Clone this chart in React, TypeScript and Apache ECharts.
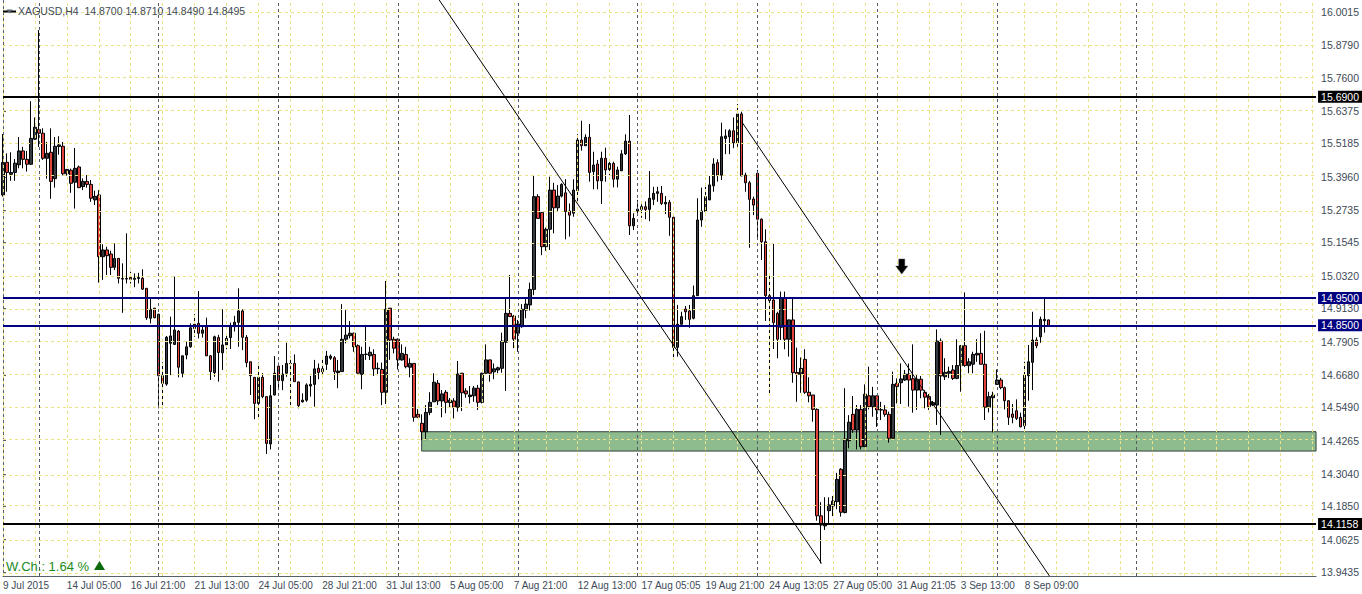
import React, { useEffect, useRef } from "react";
import * as echarts from "echarts";

// ---------------- data ----------------
const symbolName = "XAGUSD,H4";
const weeklyChangeText = "W.Ch.: 1.64 %";

const dateLabels = [
  "9 Jul 2015", "14 Jul 05:00", "16 Jul 21:00", "21 Jul 13:00", "24 Jul 05:00",
  "28 Jul 21:00", "31 Jul 13:00", "5 Aug 05:00", "7 Aug 21:00", "12 Aug 13:00",
  "17 Aug 05:05", "19 Aug 21:00", "24 Aug 13:05", "27 Aug 05:00", "31 Aug 21:05",
  "3 Sep 13:00", "8 Sep 09:00",
];

const priceTicks = [
  16.0015, 15.879, 15.76, 15.6375, 15.5185, 15.396, 15.2735, 15.1545, 15.032,
  14.913, 14.7905, 14.668, 14.549, 14.4265, 14.304, 14.185, 14.0625, 13.9435,
];

const levelPrices = [15.69, 14.95, 14.85, 14.1158];
const levelColors = ["#000000", "#000080", "#000080", "#000000"];

const opens = [
  15.329, 15.449, 15.405, 15.412, 15.440, 15.491, 15.460, 15.442, 15.534, 15.570,
  15.556, 15.464, 15.486, 15.389, 15.507, 15.508, 15.407, 15.420, 15.376, 15.432,
  15.360, 15.379, 15.368, 15.311, 15.329, 15.102, 15.127, 15.112, 15.063, 15.096,
  15.022, 15.020, 15.026, 15.019, 15.022, 15.023, 14.986, 14.876, 14.913, 14.891,
  14.665, 14.634, 14.784, 14.780, 14.829, 14.674, 14.741, 14.771, 14.838, 14.857,
  14.821, 14.845, 14.738, 14.676, 14.805, 14.749, 14.778, 14.805, 14.845, 14.861,
  14.903, 14.806, 14.716, 14.659, 14.563, 14.659, 14.588, 14.414, 14.594, 14.700,
  14.647, 14.674, 14.710, 14.710, 14.642, 14.569, 14.575, 14.627, 14.633, 14.692,
  14.680, 14.707, 14.729, 14.731, 14.676, 14.680, 14.799, 14.812, 14.821, 14.775,
  14.670, 14.743, 14.738, 14.743, 14.690, 14.688, 14.604, 14.913, 14.799, 14.799,
  14.723, 14.743, 14.696, 14.710, 14.523, 14.490, 14.459, 14.530, 14.569, 14.637,
  14.572, 14.604, 14.566, 14.572, 14.549, 14.674, 14.609, 14.588, 14.591, 14.619,
  14.567, 14.674, 14.723, 14.679, 14.686, 14.692, 14.788, 14.894, 14.884, 14.821,
  14.845, 14.906, 14.925, 14.982, 15.323, 15.265, 15.139, 15.203, 15.347, 15.282,
  15.325, 15.337, 15.270, 15.262, 15.345, 15.531, 15.510, 15.541, 15.415, 15.443,
  15.381, 15.464, 15.423, 15.445, 15.387, 15.418, 15.480, 15.527, 15.216, 15.270,
  15.276, 15.286, 15.276, 15.313, 15.335, 15.335, 15.296, 15.302, 15.247, 14.769,
  14.854, 14.910, 14.903, 14.876, 14.959, 15.237, 15.268, 15.311, 15.363, 15.448,
  15.402, 15.537, 15.543, 15.565, 15.521, 15.627, 15.402, 15.374, 15.314, 15.409,
  15.240, 15.157, 14.959, 14.943, 14.894, 14.843, 14.949, 14.799, 14.870, 14.677,
  14.670, 14.725, 14.604, 14.594, 14.541, 14.150, 14.113, 14.169, 14.186, 14.202,
  14.321, 14.162, 14.426, 14.523, 14.465, 14.541, 14.404, 14.591, 14.551, 14.591,
  14.539, 14.539, 14.523, 14.435, 14.637, 14.639, 14.649, 14.671, 14.654, 14.612,
  14.652, 14.604, 14.588, 14.557, 14.557, 14.792, 14.661, 14.674, 14.686, 14.655,
  14.702, 14.775, 14.702, 14.707, 14.741, 14.747, 14.707, 14.549, 14.584, 14.633,
  14.649, 14.621, 14.573, 14.524, 14.536, 14.512, 14.481, 14.665, 14.714, 14.796,
  14.808, 14.867, 14.870,
];

const closes = [
  15.448, 15.412, 15.412, 15.446, 15.491, 15.460, 15.442, 15.537, 15.578, 15.556,
  15.464, 15.482, 15.379, 15.508, 15.513, 15.407, 15.423, 15.372, 15.427, 15.356,
  15.379, 15.368, 15.317, 15.324, 15.102, 15.127, 15.106, 15.063, 15.096, 15.023,
  15.020, 15.022, 15.019, 15.023, 15.026, 14.983, 14.878, 14.909, 14.878, 14.665,
  14.637, 14.806, 14.811, 14.833, 14.696, 14.738, 14.771, 14.841, 14.854, 14.821,
  14.833, 14.738, 14.680, 14.808, 14.750, 14.778, 14.802, 14.848, 14.861, 14.903,
  14.806, 14.713, 14.665, 14.563, 14.659, 14.588, 14.416, 14.591, 14.674, 14.647,
  14.671, 14.710, 14.709, 14.643, 14.555, 14.575, 14.631, 14.633, 14.690, 14.677,
  14.690, 14.737, 14.737, 14.680, 14.682, 14.799, 14.814, 14.821, 14.771, 14.674,
  14.743, 14.744, 14.751, 14.690, 14.692, 14.604, 14.909, 14.796, 14.766, 14.723,
  14.747, 14.698, 14.710, 14.512, 14.512, 14.459, 14.530, 14.567, 14.641, 14.572,
  14.598, 14.567, 14.575, 14.549, 14.671, 14.602, 14.598, 14.594, 14.619, 14.567,
  14.674, 14.723, 14.674, 14.690, 14.694, 14.792, 14.894, 14.882, 14.799, 14.855,
  14.909, 14.928, 14.982, 15.323, 15.243, 15.139, 15.203, 15.347, 15.282, 15.325,
  15.368, 15.268, 15.255, 15.347, 15.531, 15.510, 15.541, 15.412, 15.439, 15.381,
  15.464, 15.421, 15.445, 15.387, 15.421, 15.480, 15.527, 15.216, 15.243, 15.277,
  15.286, 15.276, 15.317, 15.335, 15.341, 15.298, 15.302, 15.247, 14.769, 14.854,
  14.882, 14.900, 14.872, 14.959, 15.237, 15.270, 15.323, 15.366, 15.443, 15.402,
  15.543, 15.546, 15.565, 15.521, 15.627, 15.399, 15.374, 15.313, 15.292, 15.240,
  15.157, 14.959, 14.941, 14.860, 14.799, 14.949, 14.799, 14.870, 14.676, 14.670,
  14.692, 14.604, 14.591, 14.541, 14.150, 14.116, 14.122, 14.190, 14.204, 14.284,
  14.163, 14.432, 14.494, 14.465, 14.541, 14.404, 14.597, 14.551, 14.591, 14.539,
  14.540, 14.523, 14.435, 14.633, 14.625, 14.653, 14.671, 14.649, 14.612, 14.652,
  14.612, 14.586, 14.551, 14.566, 14.792, 14.664, 14.677, 14.680, 14.655, 14.702,
  14.775, 14.702, 14.716, 14.743, 14.747, 14.707, 14.549, 14.588, 14.594, 14.649,
  14.621, 14.573, 14.512, 14.512, 14.508, 14.477, 14.667, 14.716, 14.796, 14.775,
  14.872, 14.872, 14.8495,
];

const highs = [
  15.553, 15.482, 15.486, 15.461, 15.542, 15.506, 15.491, 15.674, 15.614, 15.935,
  15.574, 15.524, 15.574, 15.542, 15.545, 15.524, 15.424, 15.426, 15.502, 15.437,
  15.390, 15.402, 15.384, 15.345, 15.347, 15.148, 15.139, 15.124, 15.151, 15.097,
  15.078, 15.188, 15.047, 15.041, 15.043, 15.056, 14.987, 14.949, 14.914, 14.892,
  14.714, 14.811, 14.882, 15.029, 14.833, 14.739, 14.790, 14.857, 14.891, 14.976,
  14.845, 14.878, 14.741, 14.812, 14.815, 14.909, 14.814, 14.860, 14.885, 14.986,
  14.909, 14.814, 14.716, 14.660, 14.713, 14.674, 14.589, 14.631, 14.737, 14.713,
  14.704, 14.786, 14.735, 14.743, 14.643, 14.600, 14.637, 14.664, 14.723, 14.710,
  14.723, 14.756, 14.743, 14.737, 14.723, 14.928, 14.906, 14.866, 14.823, 14.780,
  14.771, 14.845, 14.771, 14.762, 14.713, 14.713, 15.013, 14.914, 14.808, 14.802,
  14.780, 14.771, 14.729, 14.711, 14.542, 14.523, 14.557, 14.604, 14.674, 14.649,
  14.612, 14.612, 14.583, 14.582, 14.719, 14.675, 14.619, 14.627, 14.627, 14.631,
  14.676, 14.780, 14.724, 14.710, 14.698, 14.823, 14.947, 15.035, 14.888, 14.870,
  14.928, 14.947, 15.007, 15.400, 15.332, 15.266, 15.209, 15.396, 15.374, 15.366,
  15.372, 15.387, 15.298, 15.387, 15.552, 15.602, 15.552, 15.590, 15.488, 15.458,
  15.488, 15.503, 15.451, 15.451, 15.433, 15.494, 15.552, 15.623, 15.262, 15.311,
  15.295, 15.305, 15.417, 15.359, 15.359, 15.362, 15.325, 15.311, 15.249, 14.925,
  14.900, 14.921, 14.925, 14.996, 15.317, 15.356, 15.359, 15.399, 15.464, 15.460,
  15.595, 15.570, 15.571, 15.614, 15.663, 15.635, 15.411, 15.381, 15.323, 15.421,
  15.243, 15.203, 15.035, 15.151, 14.900, 14.974, 14.974, 14.871, 14.949, 14.768,
  14.732, 14.762, 14.659, 14.594, 14.545, 14.200, 14.218, 14.218, 14.223, 14.308,
  14.325, 14.619, 14.520, 14.590, 14.557, 14.557, 14.633, 14.698, 14.624, 14.592,
  14.569, 14.557, 14.533, 14.680, 14.655, 14.710, 14.686, 14.710, 14.780, 14.667,
  14.664, 14.612, 14.598, 14.572, 14.835, 14.802, 14.729, 14.698, 14.704, 14.799,
  14.778, 14.971, 14.729, 14.753, 14.799, 14.821, 14.830, 14.606, 14.606, 14.688,
  14.657, 14.625, 14.574, 14.561, 14.578, 14.529, 14.716, 14.778, 14.900, 14.806,
  14.882, 14.949, 14.871,
];

const lows = [
  15.323, 15.341, 15.381, 15.381, 15.427, 15.427, 15.415, 15.440, 15.531, 15.506,
  15.458, 15.389, 15.315, 15.356, 15.477, 15.401, 15.400, 15.337, 15.279, 15.355,
  15.347, 15.356, 15.304, 15.292, 15.007, 15.017, 15.035, 15.035, 15.053, 15.004,
  14.896, 15.004, 15.004, 14.990, 15.004, 14.980, 14.870, 14.857, 14.876, 14.545,
  14.545, 14.628, 14.667, 14.778, 14.659, 14.659, 14.725, 14.768, 14.808, 14.802,
  14.805, 14.737, 14.649, 14.661, 14.643, 14.686, 14.762, 14.763, 14.827, 14.771,
  14.759, 14.696, 14.594, 14.505, 14.508, 14.582, 14.377, 14.394, 14.593, 14.612,
  14.612, 14.661, 14.557, 14.642, 14.545, 14.566, 14.569, 14.588, 14.551, 14.652,
  14.667, 14.686, 14.723, 14.649, 14.619, 14.679, 14.784, 14.802, 14.753, 14.673,
  14.615, 14.723, 14.723, 14.664, 14.667, 14.557, 14.561, 14.723, 14.747, 14.688,
  14.720, 14.692, 14.659, 14.496, 14.509, 14.428, 14.428, 14.520, 14.568, 14.557,
  14.512, 14.527, 14.546, 14.508, 14.533, 14.535, 14.584, 14.563, 14.569, 14.539,
  14.563, 14.673, 14.643, 14.652, 14.674, 14.676, 14.609, 14.881, 14.766, 14.753,
  14.841, 14.876, 14.904, 14.961, 15.242, 15.108, 15.124, 15.127, 15.188, 15.268,
  15.320, 15.166, 15.176, 15.249, 15.298, 15.492, 15.509, 15.378, 15.350, 15.350,
  15.296, 15.378, 15.402, 15.357, 15.357, 15.417, 15.476, 15.182, 15.200, 15.262,
  15.245, 15.240, 15.233, 15.292, 15.304, 15.292, 15.259, 15.179, 14.729, 14.735,
  14.845, 14.870, 14.841, 14.872, 14.958, 15.212, 15.267, 15.310, 15.341, 15.378,
  15.384, 15.479, 15.479, 15.501, 15.506, 15.398, 15.341, 15.135, 15.255, 15.170,
  15.090, 14.866, 14.600, 14.763, 14.729, 14.796, 14.762, 14.735, 14.639, 14.569,
  14.602, 14.598, 14.567, 14.496, 14.132, 13.975, 14.098, 14.116, 14.149, 14.174,
  14.147, 14.159, 14.398, 14.455, 14.394, 14.394, 14.403, 14.541, 14.514, 14.477,
  14.502, 14.514, 14.419, 14.434, 14.563, 14.561, 14.646, 14.551, 14.529, 14.539,
  14.582, 14.545, 14.539, 14.553, 14.484, 14.447, 14.649, 14.656, 14.649, 14.652,
  14.606, 14.698, 14.674, 14.674, 14.716, 14.706, 14.502, 14.530, 14.457, 14.631,
  14.615, 14.541, 14.484, 14.490, 14.502, 14.475, 14.468, 14.573, 14.612, 14.766,
  14.786, 14.823, 14.849,
];

// support zone (price band, starting bar)
const zoneTop = 14.459;
const zoneBottom = 14.388;
const zoneStartBar = 104.9;

// channel trend lines [bar, price]
const channelA = [[109.3, 16.0456], [205.1, 13.975]];
const channelB = [[185.1, 15.598], [262.2, 13.9288]];

// sell arrow [bar, price]
const arrowPoint = [225.2, 15.066];

// period separators (bar indices)
const separatorBars = [9, 39, 69, 99, 129, 159, 189, 219, 249, 284];

// ---------------- layout constants ----------------
const TOTAL_BARS = 330;
const Y_MIN = 13.9288;
const Y_MAX = 16.0456;
const FONT = "'Liberation Sans', Arial, sans-serif";
const TEXT = "#3e4a57";
const AXIS = "#56616c";
const GRID_Y = "#ece28a";
const SEP = "#555b60";

export default function App() {
  const ref = useRef<HTMLDivElement>(null);

  useEffect(() => {
    document.body.style.margin = "0";
    const chart = echarts.init(ref.current!, null, { renderer: "svg" });

    const cats = Array.from({ length: TOTAL_BARS }, (_, i) => String(i));
    const candles = opens.map((o, i) => [o, closes[i], lows[i], highs[i]]);
    const last = opens.length - 1;
    const header = `${symbolName}  ${opens[last].toFixed(4)} ${highs[last].toFixed(4)} ${lows[last].toFixed(4)} ${closes[last].toFixed(4)}`;

    const vGrid: number[] = [];
    for (let i = 0; i < TOTAL_BARS; i += 8) vGrid.push(i);

    const gridLines: any[] = [
      ...priceTicks.map((v) => ({
        yAxis: v,
        lineStyle: { color: GRID_Y, type: [3, 3], width: 1 },
        label: { show: false },
      })),
      ...vGrid.map((b) => ({
        xAxis: b,
        lineStyle: { color: GRID_Y, type: [3, 3], width: 1 },
        label: { show: false },
      })),
      ...separatorBars.map((b) => ({
        xAxis: b,
        lineStyle: { color: SEP, type: [3, 3], width: 1 },
        label: { show: false },
      })),
    ];

    const levelLines = levelPrices.map((v, i) => ({
      yAxis: v,
      lineStyle: { color: levelColors[i], type: "solid", width: 2 },
      label: {
        show: true,
        position: "end",
        distance: 2,
        formatter: v.toFixed(4),
        color: "#ffffff",
        backgroundColor: levelColors[i],
        padding: [1, 4, 0, 3],
        fontFamily: FONT,
        fontSize: 10.5,
        lineHeight: 11,
      },
    }));

    const option: any = {
      animation: false,
      backgroundColor: "#ffffff",
      grid: { left: 3, top: 0, width: 1316, height: 576, containLabel: false },
      xAxis: [
        {
          type: "category",
          data: cats,
          boundaryGap: false,
          axisLine: { show: true, lineStyle: { color: AXIS, width: 1 } },
          axisTick: { show: false },
          splitLine: { show: false },
          axisLabel: {
            show: true,
            interval: (i: number) => i % 16 === 0 && i / 16 < dateLabels.length,
            formatter: (_v: string, i: number) => dateLabels[i / 16] ?? "",
            align: "left",
            margin: 4,
            color: TEXT,
            fontFamily: FONT,
            fontSize: 10,
            hideOverlap: false,
          },
        },
        { type: "value", min: 0, max: TOTAL_BARS - 1, show: false },
      ],
      yAxis: [
        {
          type: "value",
          position: "right",
          min: Y_MIN,
          max: Y_MAX,
          scale: true,
          axisLine: { show: true, lineStyle: { color: AXIS, width: 1 } },
          axisTick: { show: true, customValues: priceTicks, length: 3, lineStyle: { color: AXIS } },
          axisLabel: {
            show: true,
            customValues: priceTicks,
            formatter: (v: number) => v.toFixed(4),
            margin: 5,
            color: TEXT,
            fontFamily: FONT,
            fontSize: 10.5,
          },
          splitLine: { show: false },
        },
        {
          type: "value",
          position: "left",
          min: Y_MIN,
          max: Y_MAX,
          scale: true,
          axisLine: { show: true, lineStyle: { color: AXIS, width: 1 } },
          axisTick: { show: false },
          axisLabel: { show: false },
          splitLine: { show: false },
        },
      ],
      series: [
        {
          name: "zone",
          type: "line",
          xAxisIndex: 1,
          yAxisIndex: 0,
          data: [],
          z: 1,
          silent: true,
          markArea: {
            silent: true,
            itemStyle: { color: "#8fbc8f", borderColor: "#34443a", borderWidth: 1 },
            data: [[{ coord: [zoneStartBar, zoneTop] }, { coord: [TOTAL_BARS - 1, zoneBottom] }]],
          },
        },
        {
          name: "grid",
          type: "line",
          xAxisIndex: 1,
          yAxisIndex: 0,
          data: [],
          z: 2,
          silent: true,
          markLine: { silent: true, symbol: ["none", "none"], data: gridLines },
        },
        {
          name: "XAGUSD",
          type: "candlestick",
          xAxisIndex: 0,
          yAxisIndex: 0,
          z: 3,
          barWidth: 3,
          data: candles,
          itemStyle: {
            color: "#353a40",
            color0: "#e2423c",
            borderColor: "#000000",
            borderColor0: "#000000",
            borderColorDoji: "#000000",
            borderWidth: 1,
          },
        },
        {
          name: "levels",
          type: "line",
          xAxisIndex: 1,
          yAxisIndex: 0,
          data: [],
          z: 4,
          silent: true,
          markLine: { silent: true, symbol: ["none", "none"], data: levelLines },
        },
        {
          name: "channelA",
          type: "line",
          xAxisIndex: 1,
          yAxisIndex: 0,
          data: channelA,
          symbol: "none",
          z: 5,
          silent: true,
          lineStyle: { color: "#000000", width: 1 },
        },
        {
          name: "channelB",
          type: "line",
          xAxisIndex: 1,
          yAxisIndex: 0,
          data: channelB,
          symbol: "none",
          z: 5,
          silent: true,
          lineStyle: { color: "#000000", width: 1 },
        },
        {
          name: "arrow",
          type: "scatter",
          xAxisIndex: 1,
          yAxisIndex: 0,
          data: [arrowPoint],
          symbol: "path://M3,0L9,0L9,7L12,7L6,15L0,7L3,7Z",
          symbolSize: [12, 15],
          z: 6,
          silent: true,
          itemStyle: { color: "#000000", borderColor: "#444444", borderWidth: 0.5, opacity: 1 },
        },
      ],
      graphic: [
        {
          type: "line",
          shape: { x1: 3, y1: 11.5, x2: 16, y2: 11.5 },
          style: { stroke: "#000000", lineWidth: 2 },
          z: 10,
        },
        {
          type: "polygon",
          shape: { points: [[6.5, 9.5], [12.5, 9.5], [9.5, 13.5]] },
          style: { fill: "#5a6470" },
          z: 11,
        },
        {
          type: "text",
          x: 18,
          y: 10.7,
          style: {
            text: header,
            fill: TEXT,
            font: `10.5px ${FONT}`,
            verticalAlign: "middle",
          },
          z: 10,
        },
        {
          type: "text",
          x: 6,
          y: 566.5,
          style: {
            text: weeklyChangeText,
            fill: "#1c8c1c",
            font: `13px ${FONT}`,
            verticalAlign: "middle",
          },
          z: 10,
        },
        {
          type: "polygon",
          shape: { points: [[94, 570], [105, 570], [99.5, 561]] },
          style: { fill: "#0b6b0b" },
          z: 10,
        },
      ],
    };

    chart.setOption(option);
    return () => chart.dispose();
  }, []);

  return (
    <div
      ref={ref}
      style={{ position: "absolute", left: 0, top: 0, width: 1362, height: 594 }}
    />
  );
}
